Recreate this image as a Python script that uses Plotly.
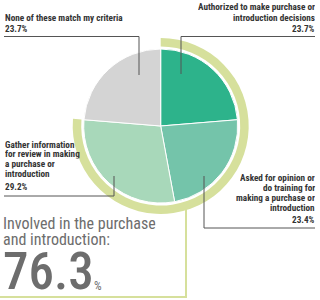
import plotly.graph_objects as go

W, H = 320, 300

categories = ["Authorized to make purchase or introduction decisions",
              "Asked for opinion or do training for making a purchase or introduction",
              "Gather information for review in making a purchase or introduction",
              "None of these match my criteria"]
values = [23.7, 23.4, 29.2, 23.7]
slice_colors = ["#2db38b", "#74c4aa", "#a8d8ba", "#d4d4d4"]
involved = [76.3, 100 - 76.3]
ring_colors = ["#d6e09c", "rgba(0,0,0,0)"]

CX, CY, R = 160.7, 126.0, 77.0
R_OUT, R_IN = 88.0, 79.5

def px(x):
    return x / W

def py(y):
    return 1 - y / H

fig = go.Figure()
fig.add_trace(go.Pie(
    values=involved, sort=False, direction="clockwise", rotation=0,
    hole=R_IN / R_OUT, textinfo="none", hoverinfo="skip",
    marker=dict(colors=ring_colors, line=dict(width=0)),
    domain=dict(x=[px(CX - R_OUT), px(CX + R_OUT)], y=[py(CY + R_OUT), py(CY - R_OUT)]),
))
fig.add_trace(go.Pie(
    labels=categories, values=values, sort=False, direction="clockwise", rotation=0,
    textinfo="none", hoverinfo="label+percent",
    marker=dict(colors=slice_colors, line=dict(color="white", width=1)),
    domain=dict(x=[px(CX - R), px(CX + R)], y=[py(CY + R), py(CY - R)]),
))

shapes = []
def poly(points, color, width):
    path = "M " + " L ".join(f"{px(x)},{py(y)}" for x, y in points)
    shapes.append(dict(type="path", path=path, xref="paper", yref="paper",
                       line=dict(color=color, width=width)))

LC = "#555555"
poly([(4, 36.5), (139, 36.5), (139, 75)], LC, 1)
poly([(315, 36.5), (181, 36.5), (181, 74)], LC, 1)
poly([(4, 196), (114, 196), (114, 176)], LC, 1)
poly([(315, 228), (204, 228), (204, 176)], LC, 1)
poly([(186, 208), (186, 297), (0, 297)], "#d6e09c", 2)

annotations = []
FONT = "Roboto Condensed"
TC = "#333333"
def text(lines, x, y0, step, anchor, size=9.2, color=TC, bold=True, weight=None,
         box=None, valign="middle"):
    natural = size * 1.17
    for i, s in enumerate(lines):
        t = f"<b>{s}</b>" if bold else s
        f = dict(family=FONT, size=size, color=color)
        if weight:
            f["weight"] = weight
        yc = y0 + i * step
        a = dict(text=t, x=px(x), xref="paper", yref="paper",
                 xanchor=anchor, yanchor="middle", showarrow=False, borderpad=0, font=f)
        if box:
            a["height"] = box
            a["valign"] = valign
            if valign == "bottom":
                yc += (natural - box) / 2
        a["y"] = py(yc)
        annotations.append(a)

text(["None of these match my criteria"], 3.5, 17.5, 10.5, "left", box=10, valign="bottom")
text([f"{values[3]}%"], 3.5, 29, 10.5, "left", box=10, valign="bottom")
text(["Authorized to make purchase or", "introduction decisions"], 315.5, 7, 10.5, "right", box=10, valign="bottom")
text([f"{values[0]}%"], 315.5, 29, 10.5, "right", box=10, valign="bottom")
text(["Gather information", "for review in making", "a purchase or", "introduction"], 3.5, 144, 9.7, "left", box=9.6, valign="bottom")
text([f"{values[2]}%"], 3.5, 186, 10, "left", box=9.6, valign="bottom")
text(["Asked for opinion or", "do training for", "making a purchase or", "introduction"], 315.5, 177.3, 10, "right", box=9.8, valign="bottom")
text([f"{values[1]}%"], 315.5, 219.3, 10, "right", box=9.8, valign="bottom")

GC = "#6d6d6d"
text(["Involved in the purchase", "and introduction:"], 2, 224, 16, "left", size=16, color=GC, bold=False,
     box=15.8, valign="bottom")
text([f"{involved[0]}"], 1.5, 271, 0, "left", size=51, color=GC, bold=False, weight=500, box=42)
text(["%"], 92.5, 286, 0, "left", size=12, color=GC, bold=False)

fig.update_layout(width=W, height=H, margin=dict(l=0, r=0, t=0, b=0),
                  paper_bgcolor="white", plot_bgcolor="white", showlegend=False,
                  shapes=shapes, annotations=annotations)
fig.write_html("out.html")
